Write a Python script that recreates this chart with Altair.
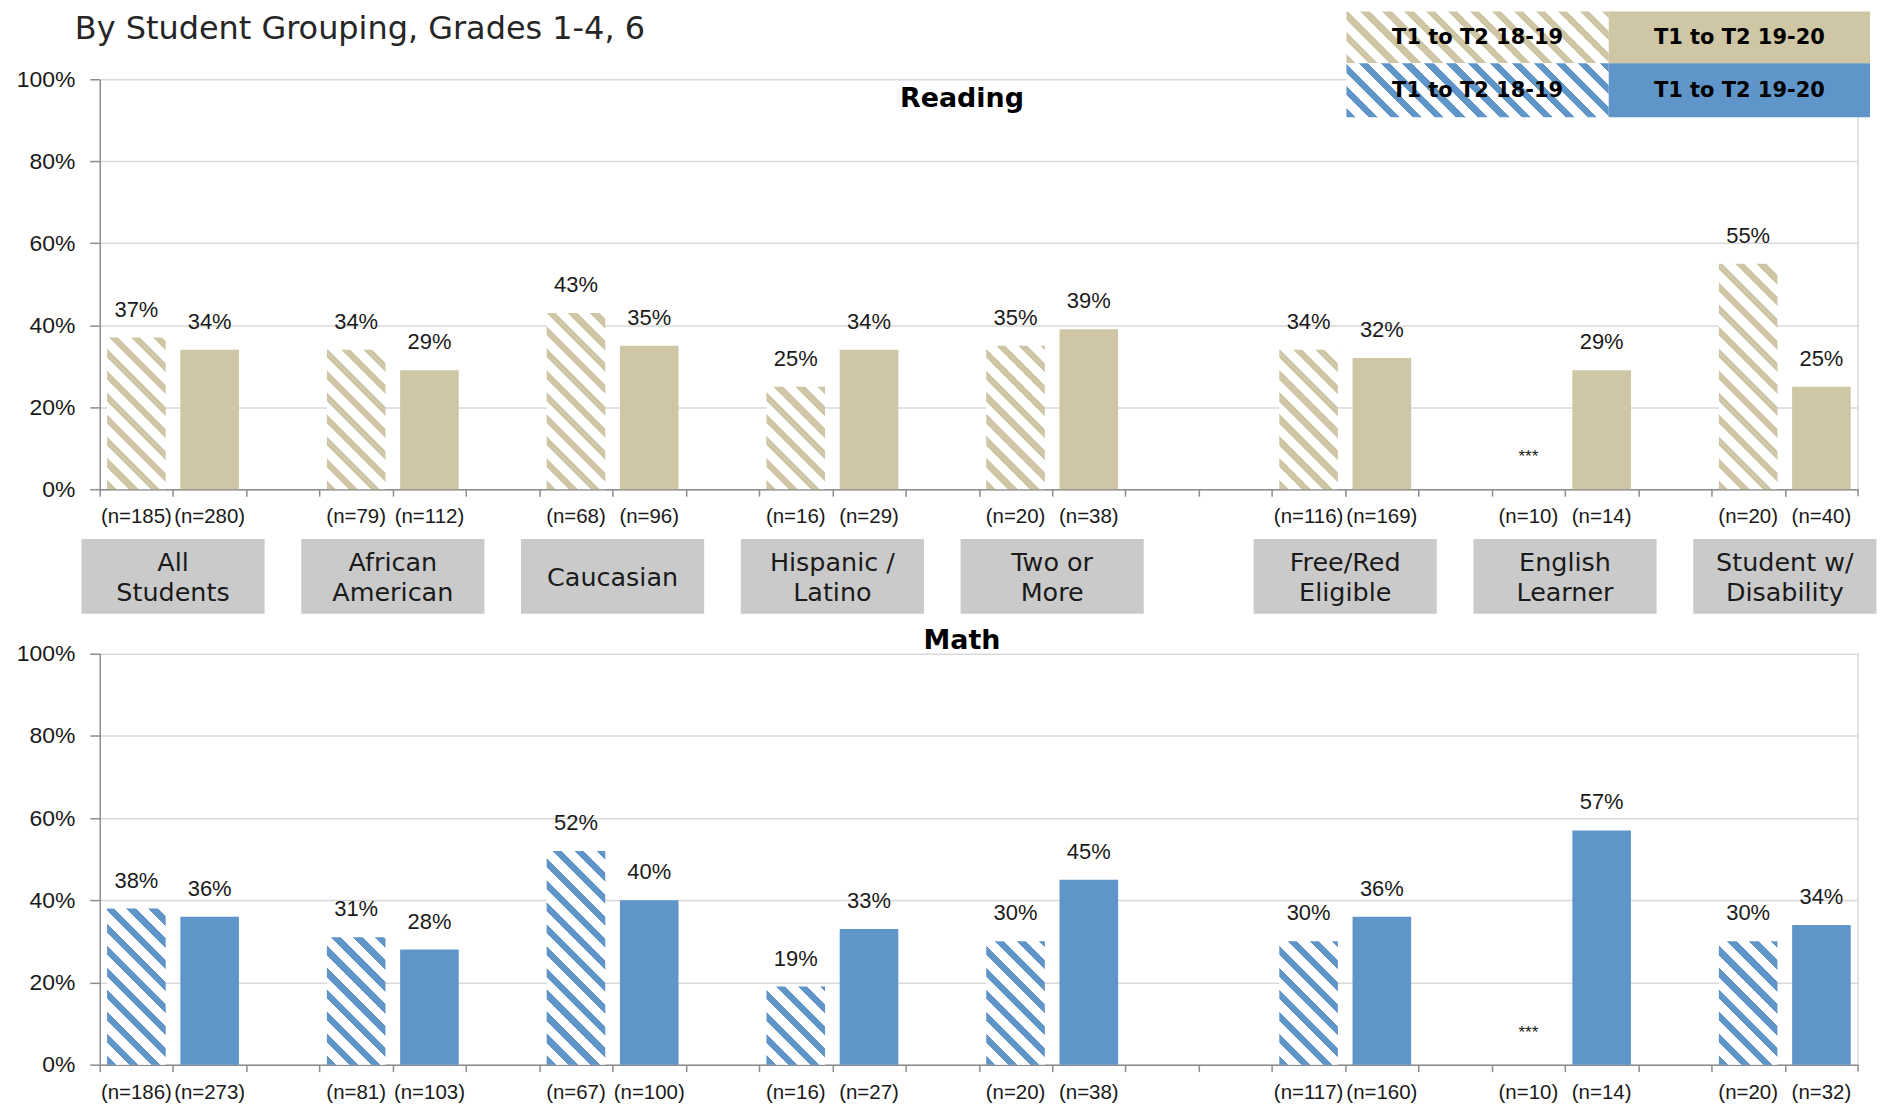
import altair as alt
import pandas as pd

# ---------------- data ----------------
title_text = "By Student Grouping, Grades 1-4, 6"
groups = ["All Students", "African American", "Caucasian", "Hispanic / Latino",
          "Two or More", "Free/Red Eligible", "English Learner", "Student w/ Disability"]
box_labels = ["All\nStudents", "African\nAmerican", "Caucasian", "Hispanic /\nLatino",
              "Two or\nMore", "Free/Red\nEligible", "English\nLearner", "Student w/\nDisability"]
periods = ["T1 to T2 18-19", "T1 to T2 19-20"]

reading_1819 = [37, 34, 43, 25, 35, 34, None, 55]
reading_1920 = [34, 29, 35, 34, 39, 32, 29, 25]
reading_n_1819 = [185, 79, 68, 16, 20, 116, 10, 20]
reading_n_1920 = [280, 112, 96, 29, 38, 169, 14, 40]

math_1819 = [38, 31, 52, 19, 30, 30, None, 30]
math_1920 = [36, 28, 40, 33, 45, 36, 57, 34]
math_n_1819 = [186, 81, 67, 16, 20, 117, 10, 20]
math_n_1920 = [273, 103, 100, 27, 38, 160, 14, 32]

suppressed = "***"

# category slots: two bars per group, blank separators (extra blank before Free/Red block)
slot_order = []
for i, g in enumerate(groups):
    if i == 5:
        slot_order.append("gap_extra")
    slot_order += [f"{g}|18-19", f"{g}|19-20"]
    if i < len(groups) - 1:
        slot_order.append(f"gap{i}")

# ---------------- style ----------------
TAN = "#CEC6A5"
BLUE = "#6095C9"
BOX = "#CACACA"
GRID = "#D9D9D9"
AXIS = "#8C8C8C"
INK = "#1A1A1A"
NUM_FONT = "Liberation Sans"
TXT_FONT = "DejaVu Sans"


def hatch(color, w, h, period=22.0, frac=0.42):
    """Diagonal (top-left -> bottom-right) stripes as a bbox linear gradient."""
    c = (w + h) / (w * w + h * h)
    x1, y1 = 0.0, 1.0
    x2, y2 = c * w, 1.0 - c * h
    P = period / (w + h)
    stops = []
    k = 0
    while k * P < 1:
        a = k * P
        b = min(a + frac * P, 1.0)
        e = min(a + P, 1.0)
        stops += [(color, a), (color, b), ("#FFFFFF", b), ("#FFFFFF", e)]
        k += 1
    return alt.LinearGradient(
        gradient="linear",
        stops=[alt.GradientStop(color=cl, offset=round(o, 5)) for cl, o in stops],
        x1=x1, y1=y1, x2=round(x2, 5), y2=round(y2, 5),
    )


def one(val):
    return pd.DataFrame({"t": [val]})


def panel(name, v1, v2, n1, n2, color, W, H, name_y, with_boxes, with_legend, left_bound):
    step = W / 24.0
    bw = step * 0.8
    rows = []
    for i, g in enumerate(groups):
        for per, vals, ns in (("18-19", v1, n1), ("19-20", v2, n2)):
            v = vals[i]
            rows.append({
                "slot": f"{g}|{per}", "period": per, "value": v,
                "label": "" if v is None else f"{v}%",
                "n": f"(n={ns[i]})",
                "star": suppressed if v is None else "",
            })
    df = pd.DataFrame(rows)

    xscale = alt.Scale(domain=slot_order, paddingInner=0.2, paddingOuter=0.1)
    xaxis = alt.Axis(labels=False, title=None, grid=False, ticks=True, tickSize=7,
                     tickOffset=-step / 2, tickColor=AXIS, tickWidth=1.5,
                     domainColor=AXIS, domainWidth=1.5)
    yscale = alt.Scale(domain=[0, 100])
    yaxis = alt.Axis(values=[0, 20, 40, 60, 80, 100], labelExpr="datum.value + '%'",
                     title=None, grid=True, gridColor=GRID, gridWidth=1.5,
                     tickSize=10, tickColor=AXIS, tickWidth=1.5,
                     domainColor=AXIS, domainWidth=1.5,
                     labelFont=NUM_FONT, labelFontSize=23, labelColor=INK, labelPadding=15)
    X = alt.X("slot:N", scale=xscale, axis=xaxis)
    Y = alt.Y("value:Q", scale=yscale, axis=yaxis)

    base = alt.Chart(df)
    layers = []
    layers.append(
        alt.Chart(one(0)).mark_rule(strokeOpacity=0).encode(
            x=alt.value(-left_bound), y=alt.value(0), y2=alt.value(H))
    )
    layers.append(
        base.transform_filter(alt.datum.period == "19-20").mark_bar(fill=color).encode(x=X, y=Y)
    )
    for i, g in enumerate(groups):
        v = v1[i]
        if v is None:
            continue
        h = v / 100.0 * H
        layers.append(
            base.transform_filter(alt.datum.slot == f"{g}|18-19")
            .mark_bar(fill=hatch(color, bw, h))
            .encode(x=X, y=Y)
        )
    layers.append(
        base.transform_filter("isValid(datum.value)")
        .mark_text(font=NUM_FONT, fontSize=22, dy=-28, color=INK, baseline="middle")
        .encode(x=X, y=Y, text="label:N")
    )
    layers.append(
        base.transform_filter("!isValid(datum.value)")
        .mark_text(font=NUM_FONT, fontSize=17, color=INK, baseline="middle")
        .encode(x=X, y=alt.value(H - 32), text="star:N")
    )
    layers.append(
        base.mark_text(font=NUM_FONT, fontSize=20.5, color=INK, baseline="middle")
        .encode(x=X, y=alt.value(H + 28), text="n:N")
    )
    # right border and closing tick
    layers.append(
        alt.Chart(one(0)).mark_rule(color=GRID, strokeWidth=1.5).encode(
            x=alt.value(W), y=alt.value(0), y2=alt.value(H))
    )
    layers.append(
        alt.Chart(one(0)).mark_rule(color=AXIS, strokeWidth=1.5).encode(
            x=alt.value(W), y=alt.value(H), y2=alt.value(H + 7))
    )
    # panel name
    layers.append(
        alt.Chart(one(name)).mark_text(font=TXT_FONT, fontSize=27, fontWeight="bold",
                                       color="#000000", baseline="middle")
        .encode(x=alt.value(W / 2 - 17), y=alt.value(name_y), text="t:N")
    )
    if with_boxes:
        bdf = pd.DataFrame({"slot": [f"{g}|18-19" for g in groups], "label": box_labels})
        bdf["lines"] = bdf["label"].str.count("\n") + 1
        bx = alt.Chart(bdf)
        layers.append(
            bx.mark_bar(fill=BOX, width=2.5 * step, xOffset=step / 2)
            .encode(x=X, y=alt.value(H + 50), y2=alt.value(H + 125))
        )
        layers.append(
            bx.transform_filter(alt.datum.lines == 2)
            .mark_text(font=TXT_FONT, fontSize=25.5, lineBreak="\n", lineHeight=30,
                       dx=step / 2, baseline="middle", color=INK)
            .encode(x=X, y=alt.value(H + 74), text="label:N")
        )
        layers.append(
            bx.transform_filter(alt.datum.lines == 1)
            .mark_text(font=TXT_FONT, fontSize=25.5, dx=step / 2, baseline="middle", color=INK)
            .encode(x=X, y=alt.value(H + 89), text="label:N")
        )
    if with_legend:
        cols = [(1250, 1513), (1513, 1775)]
        rws = [(-68, -16), (-16, 38)]
        for r, col_color in enumerate([TAN, BLUE]):
            for c, per in enumerate(periods):
                (xa, xb), (ya, yb) = cols[c], rws[r]
                fill = hatch(col_color, xb - xa, yb - ya) if c == 0 else col_color
                layers.append(
                    alt.Chart(one(per)).mark_rect(fill=fill).encode(
                        x=alt.value(xa), x2=alt.value(xb), y=alt.value(ya), y2=alt.value(yb))
                )
                layers.append(
                    alt.Chart(one(per)).mark_text(font=TXT_FONT, fontSize=21, fontWeight="bold",
                                                  color="#000000", baseline="middle")
                    .encode(x=alt.value((xa + xb) / 2), y=alt.value((ya + yb) / 2 + 1), text="t:N")
                )
        layers.append(
            alt.Chart(one(title_text)).mark_text(font=TXT_FONT, fontSize=32, color="#262626",
                                                 align="left", baseline="middle")
            .encode(x=alt.value(-25), y=alt.value(-50), text="t:N")
        )
    return alt.layer(*layers).properties(width=W, height=H)


reading = panel("Reading", reading_1819, reading_1920, reading_n_1819, reading_n_1920,
                TAN, 1763, 411, 20, True, True, 88)
math = panel("Math", math_1819, math_1920, math_n_1819, math_n_1920,
             BLUE, 1763, 412, -13, False, False, 88)

chart = (
    alt.vconcat(reading, math, spacing=13)
    .properties(padding={"left": 4, "top": 2, "right": 2, "bottom": 0})
    .configure_view(stroke=None)
)

chart.save("out.html", embed_options={"renderer": "svg", "actions": False})
